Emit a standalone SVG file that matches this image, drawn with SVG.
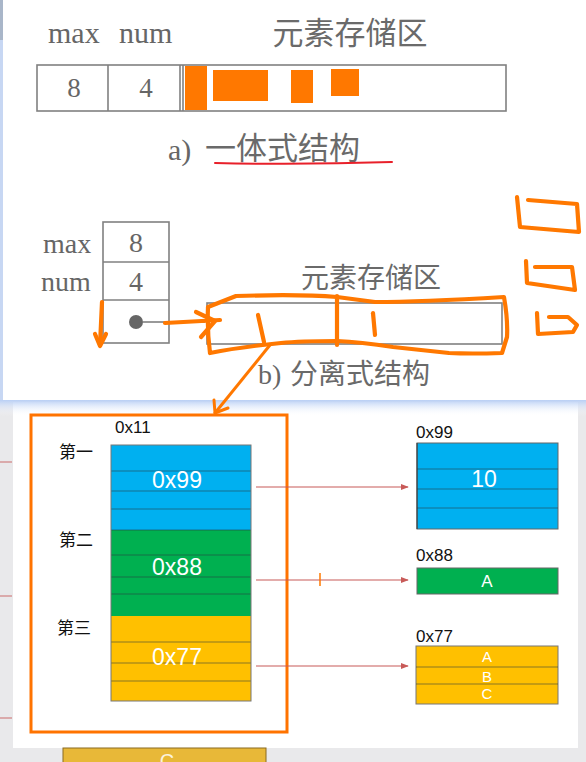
<svg xmlns="http://www.w3.org/2000/svg" width="586" height="762" viewBox="0 0 586 762">
<defs>
<style>
.serif{font-family:"Liberation Serif","Noto Sans CJK SC",serif;fill:#666}
.cjk{font-family:"Noto Sans CJK SC","Liberation Serif",sans-serif;fill:#6a6a6a}
.box{fill:none;stroke:#808080;stroke-width:1.6}
.hand{fill:none;stroke:#ff7800;stroke-width:4.2;stroke-linecap:round;stroke-linejoin:round}
.lbl{font-family:"Liberation Sans","Noto Sans CJK SC",sans-serif;font-size:17px;fill:#111}
.wt{font-family:"Liberation Sans",sans-serif;fill:#fff;text-anchor:middle}
.rl{stroke:#c85a58;stroke-width:1.2;fill:none}
.sep{stroke:#2a3a40;stroke-opacity:0.55;stroke-width:1}
</style>
<marker id="ah" viewBox="0 0 10 10" refX="9" refY="5" markerWidth="8" markerHeight="8" orient="auto" markerUnits="userSpaceOnUse">
<path d="M0,1 L10,5 L0,9 z" fill="#c85a58"/>
</marker>
<linearGradient id="band" x1="0" y1="0" x2="0" y2="1">
<stop offset="0" stop-color="#b9cff5"/>
<stop offset="1" stop-color="#ffffff" stop-opacity="0"/>
</linearGradient>
</defs>

<!-- backgrounds -->
<rect x="0" y="0" width="586" height="762" fill="#e9e9eb"/>
<rect x="0" y="0" width="3" height="400" fill="#c7d7f3"/>
<rect x="0" y="0" width="3" height="40" fill="#a9b6c9"/>
<rect x="3" y="0" width="583" height="400" fill="#ffffff"/>
<rect x="13" y="402" width="565" height="346" fill="#ffffff"/>
<rect x="0" y="400" width="586" height="16" fill="url(#band)"/>
<g id="edge-lines" stroke="#d08080" stroke-width="1.2">
<line x1="0" y1="462" x2="12" y2="462"/>
<line x1="0" y1="596" x2="12" y2="596"/>
<line x1="0" y1="718" x2="12" y2="718"/>
</g>
<g id="peek-bottom">
<rect x="63" y="748" width="203" height="16" fill="#e8b838" stroke="#8a6a20" stroke-width="1"/>
<text x="167" y="768" class="wt" font-size="20" fill-opacity="0.85">C</text>
</g>

<!-- part a -->
<g id="a-labels">
<text x="48" y="43" class="serif" font-size="30">max</text>
<text x="119" y="43" class="serif" font-size="30">num</text>
<text x="350" y="44" class="cjk" font-size="31" text-anchor="middle">元素存储区</text>
</g>
<g id="a-box">
<rect x="37" y="65" width="469" height="46" class="box"/>
<line x1="108" y1="65" x2="108" y2="111" class="box"/>
<line x1="180" y1="65" x2="180" y2="111" class="box"/>
<line x1="183" y1="65" x2="183" y2="111" class="box"/>
<text x="74" y="97" class="serif" font-size="27" text-anchor="middle">8</text>
<text x="146" y="97" class="serif" font-size="27" text-anchor="middle">4</text>
<rect x="185" y="66" width="22" height="44" fill="#ff7800"/>
<rect x="213" y="70" width="55" height="31" fill="#ff7800"/>
<rect x="291" y="70" width="22" height="33" fill="#ff7800"/>
<rect x="331" y="69" width="28" height="27" fill="#ff7800"/>
</g>
<g id="a-caption">
<text x="168" y="160" class="serif" font-size="30">a)</text>
<text x="205" y="159" class="cjk" font-size="31">一体式结构</text>
<path d="M215,163 Q300,165 392,162" fill="none" stroke="#e8202a" stroke-width="2" stroke-linecap="round"/>
</g>

<!-- part b -->
<g id="b-fields">
<text x="43" y="253" class="serif" font-size="28">max</text>
<text x="41" y="291" class="serif" font-size="28">num</text>
<rect x="103" y="222" width="66" height="121" class="box"/>
<line x1="103" y1="262" x2="169" y2="262" class="box"/>
<line x1="103" y1="300" x2="169" y2="300" class="box"/>
<text x="136" y="252" class="serif" font-size="28" text-anchor="middle">8</text>
<text x="136" y="291" class="serif" font-size="28" text-anchor="middle">4</text>
<circle cx="136" cy="322" r="7" fill="#666"/>
<line x1="143" y1="322" x2="205" y2="322" stroke="#777" stroke-width="1.5"/>
</g>
<g id="b-store">
<text x="371" y="288" class="cjk" font-size="28" text-anchor="middle">元素存储区</text>
<rect x="207" y="303" width="295" height="41" class="box"/>
<text x="258" y="384" class="serif" font-size="28">b)</text>
<text x="290" y="384" class="cjk" font-size="28">分离式结构</text>
</g>

<!-- hand drawn marks -->
<g id="hand-marks" class="hand">
<path d="M102,302 L100,345"/>
<path d="M95,334 L100,346 L106,334"/>
<path d="M165,323 L220,320"/>
<path d="M196,312 L215,321 L201,337"/>
<path d="M208,307 L236,296 Q300,294 337,297 Q360,300 375,302 Q420,302 504,297 Q508,320 507,337 L502,353 Q470,354 449,353 Q420,350 393,347 Q360,342 337,341 Q300,341 281,343 Q240,347 210,353 Q207,330 208,307 Z"/>
<path d="M337,296 L337,345"/>
<path d="M258,315 L264,342"/>
<path d="M373,313 L375,335"/>
<path d="M270,345 L215,413" stroke-width="3"/>
<path d="M214,400 L215,413 L228,408" stroke-width="3"/>
<path d="M528,200 L577,204 L579,232 L520,227 L517,197"/>
<path d="M535,267 L572,267 L575,290 L527,283 L526,261"/>
<path d="M549,317 L568,317 L577,325 L573,332 L538,334 L537,313"/>
</g>

<!-- memory layout -->
<g id="frame">
<rect x="31" y="415" width="256" height="317" fill="none" stroke="#ff7300" stroke-width="3"/>
<text x="115" y="433" class="lbl">0x11</text>
<text x="59" y="458" class="lbl">第一</text>
<text x="59" y="546" class="lbl">第二</text>
<text x="57" y="634" class="lbl">第三</text>
</g>
<g id="stack-blue">
<rect x="111" y="445" width="140" height="85" fill="#00b0f0"/>
<line x1="111" y1="471" x2="251" y2="471" class="sep"/>
<line x1="111" y1="491" x2="251" y2="491" class="sep"/>
<line x1="111" y1="509" x2="251" y2="509" class="sep"/>
<text x="177" y="488" class="wt" font-size="23">0x99</text>
</g>
<g id="stack-green">
<rect x="111" y="530" width="140" height="86" fill="#00b050"/>
<line x1="111" y1="530" x2="251" y2="530" class="sep"/>
<line x1="111" y1="555" x2="251" y2="555" class="sep"/>
<line x1="111" y1="577" x2="251" y2="577" class="sep"/>
<line x1="111" y1="594" x2="251" y2="594" class="sep"/>
<text x="177" y="575" class="wt" font-size="23">0x88</text>
</g>
<g id="stack-yellow">
<rect x="111" y="616" width="140" height="85" fill="#ffc000"/>
<line x1="111" y1="642" x2="251" y2="642" class="sep"/>
<line x1="111" y1="663" x2="251" y2="663" class="sep"/>
<line x1="111" y1="681" x2="251" y2="681" class="sep"/>
<text x="177" y="665" class="wt" font-size="23">0x77</text>
</g>
<rect x="111" y="445" width="140" height="256" fill="none" stroke="#777" stroke-width="1"/>

<g id="block-99">
<text x="416" y="438" class="lbl">0x99</text>
<rect x="417" y="443" width="141" height="86" fill="#00b0f0" stroke="#666" stroke-width="1"/>
<line x1="417" y1="469" x2="558" y2="469" class="sep"/>
<line x1="417" y1="489" x2="558" y2="489" class="sep"/>
<line x1="417" y1="508" x2="558" y2="508" class="sep"/>
<line x1="417" y1="443" x2="417" y2="529" stroke="#333" stroke-width="1"/>
<text x="484" y="487" class="wt" font-size="23">10</text>
</g>
<g id="block-88">
<text x="416" y="561" class="lbl">0x88</text>
<rect x="417" y="568" width="141" height="26" fill="#00b050" stroke="#666" stroke-width="1"/>
<text x="487" y="587" class="wt" font-size="17">A</text>
</g>
<g id="block-77">
<text x="416" y="642" class="lbl">0x77</text>
<rect x="416" y="646" width="142" height="58" fill="#ffc000" stroke="#777" stroke-width="1"/>
<line x1="416" y1="667" x2="558" y2="667" class="sep"/>
<line x1="416" y1="684" x2="558" y2="684" class="sep"/>
<text x="487" y="662" class="wt" font-size="15">A</text>
<text x="487" y="682" class="wt" font-size="15">B</text>
<text x="487" y="699" class="wt" font-size="15">C</text>
</g>

<g id="connectors">
<line x1="256" y1="487" x2="408" y2="487" class="rl" marker-end="url(#ah)"/>
<line x1="256" y1="580" x2="408" y2="580" class="rl" marker-end="url(#ah)"/>
<line x1="256" y1="666" x2="408" y2="666" class="rl" marker-end="url(#ah)"/>
<line x1="320" y1="573" x2="320" y2="586" stroke="#ff7800" stroke-width="1.5"/>
</g>
</svg>
